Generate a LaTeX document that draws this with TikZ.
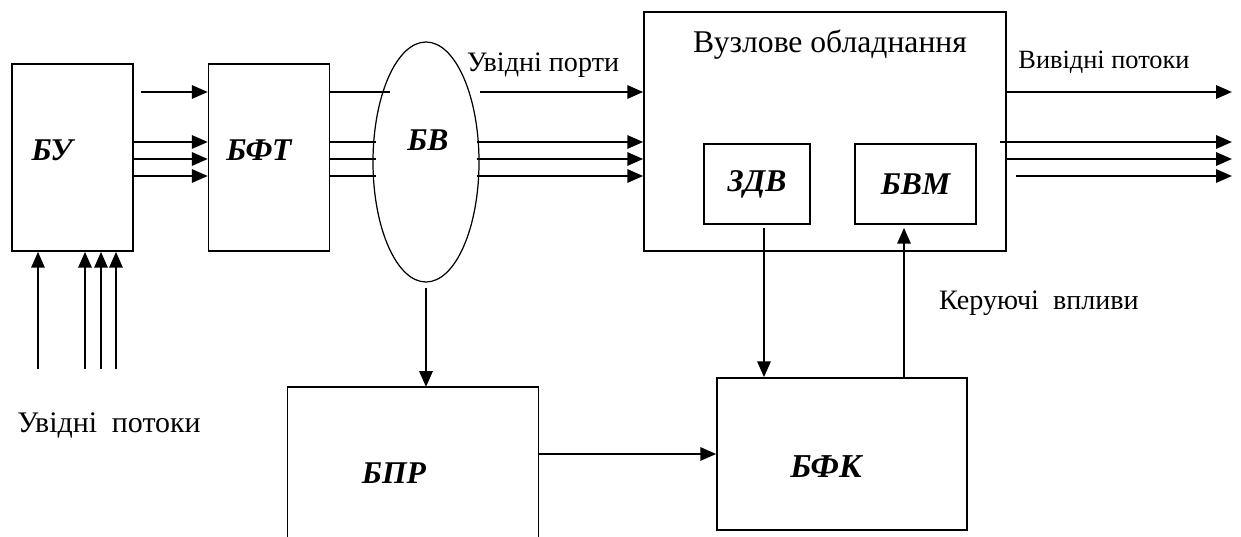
\documentclass[tikz,border=0pt]{standalone}
\usepackage{fontspec}
\setmainfont{Liberation Serif}
\usetikzlibrary{shapes.geometric, arrows.meta, positioning, calc}

\begin{document}
\begin{tikzpicture}[
  blk/.style={rectangle, draw, line width=0.9pt, inner sep=0pt, font=\fontsize{18}{21}\selectfont\bfseries\itshape},
  tag/.style={font=\fontsize{18}{21}\selectfont\bfseries\itshape, inner sep=0pt},
  txt/.style={font=\fontsize{16}{19}\selectfont, inner sep=0pt},
  e/.style={-{Triangle[length=9pt, width=7.5pt]}, line width=1.3pt},
  ln/.style={line width=0.65pt}]
  \useasboundingbox (0,0) rectangle (24.82,-10.74);
  % rows of the parallel streams
  \coordinate (r1) at (0,-1.84);
  \coordinate (r2) at (0,-2.84);
  \coordinate (r3) at (0,-3.18);
  \coordinate (r4) at (0,-3.52);
  \coordinate (inl) at (0,-7.38);
  \coordinate (bot) at (0,-10.74);
  \coordinate (out) at (24.64,0);

  \node[blk, minimum width=2.42cm, minimum height=3.74cm] (BU) at (1.45,-3.15) {};
  \node[blk, minimum width=2.42cm, minimum height=3.74cm, right=1.48cm of BU] (BFT) {};
  \node[ellipse, draw, line width=0.7pt, minimum width=2.12cm, minimum height=4.8cm] (BV) at (8.52,-3.24) {};
  \node[blk, minimum width=7.24cm, minimum height=4.78cm] (NE) at (16.5,-2.63) {};
  \node[blk, minimum width=2.12cm, minimum height=1.6cm] (ZDV) at (15.14,-3.68) {ЗДВ};
  \node[blk, minimum width=2.42cm, minimum height=1.6cm] (BVM) at (18.31,-3.68) {БВМ};
  \node[blk, minimum width=5cm, minimum height=3.04cm] (BFK) at (16.84,-9.08) {};
  \node[minimum width=5cm, minimum height=3.44cm, inner sep=0pt, anchor=north] (BPR) at (8.26,-7.74) {};

  % block names
  \node[tag] (tBU) at (1.04,-3.0) {БУ};
  \node[tag] (tBFT) at (5.18,-3.0) {БФТ};
  \node[tag] (tBV) at (8.56,-2.8) {БВ};
  \node[tag, font=\fontsize{19}{22}\selectfont\bfseries\itshape] (tBFK) at (16.52,-9.34) {БФК};
  \node[tag] (tBPR) at (7.88,-9.46) {БПР};

  % captions
  \node[txt, font=\fontsize{18}{21}\selectfont] (cNE) at (16.6,-0.9) {Вузлове обладнання};
  \node[txt] (cIn) at (10.86,-1.3) {Увідні порти};
  \node[txt, font=\fontsize{15}{18}\selectfont] (cOut) at (22.08,-1.24) {Вивідні потоки};
  \node[txt] (cCtl) at (20.78,-6.06) {Керуючі~~впливи};
  \node[txt, font=\fontsize{17}{20}\selectfont] (cSrc) at (2.18,-8.5) {Увідні~~потоки};

  % open-bottom frame of БПР
  \draw[line width=0.9pt] (BPR.north west |- bot) -- (BPR.north west) -- (BPR.north east) -- (BPR.north east |- bot);

  % streams
  \foreach \x in {0.76,1.70,2.02,2.32}
    \draw[e] (\x,0 |- inl) -- (\x,0 |- BU.south);
  \draw[e] ([xshift=0.14cm]BU.east |- r1) -- (BFT.west |- r1);
  \foreach \r in {r2,r3,r4}
    \draw[e] (BU.east |- \r) -- (BFT.west |- \r);
  \draw[ln] (BFT.east |- r1) -- ++(1.2,0);
  \foreach \r in {r2,r3,r4}
    \draw[ln] (BFT.east |- \r) -- ++(0.92,0);
  \draw[e] (BV.east |- r1) -- (NE.west |- r1);
  \foreach \r in {r2,r3,r4}
    \draw[e] ([xshift=-0.06cm]BV.east |- \r) -- (NE.west |- \r);
  \draw[e] (NE.east |- r1) -- (out |- r1);
  \draw[e] ([xshift=-0.14cm]NE.east |- r2) -- (out |- r2);
  \draw[e] (NE.east |- r3) -- (out |- r3);
  \draw[e] ([xshift=0.18cm]NE.east |- r4) -- (out |- r4);

  % control loop
  \draw[e] ([yshift=-0.1cm]BV.south) -- (BV.south |- BPR.north);
  \draw[e] (BPR.east |- BFK.west) -- (BFK.west);
  \draw[e] ([xshift=0.14cm,yshift=-0.06cm]ZDV.south) -- ([xshift=0.14cm]ZDV.south |- BFK.north);
  \draw[e] ([xshift=-0.23cm]BVM.south |- BFK.north) -- ([xshift=-0.23cm,yshift=-0.06cm]BVM.south);
\end{tikzpicture}
\end{document}
